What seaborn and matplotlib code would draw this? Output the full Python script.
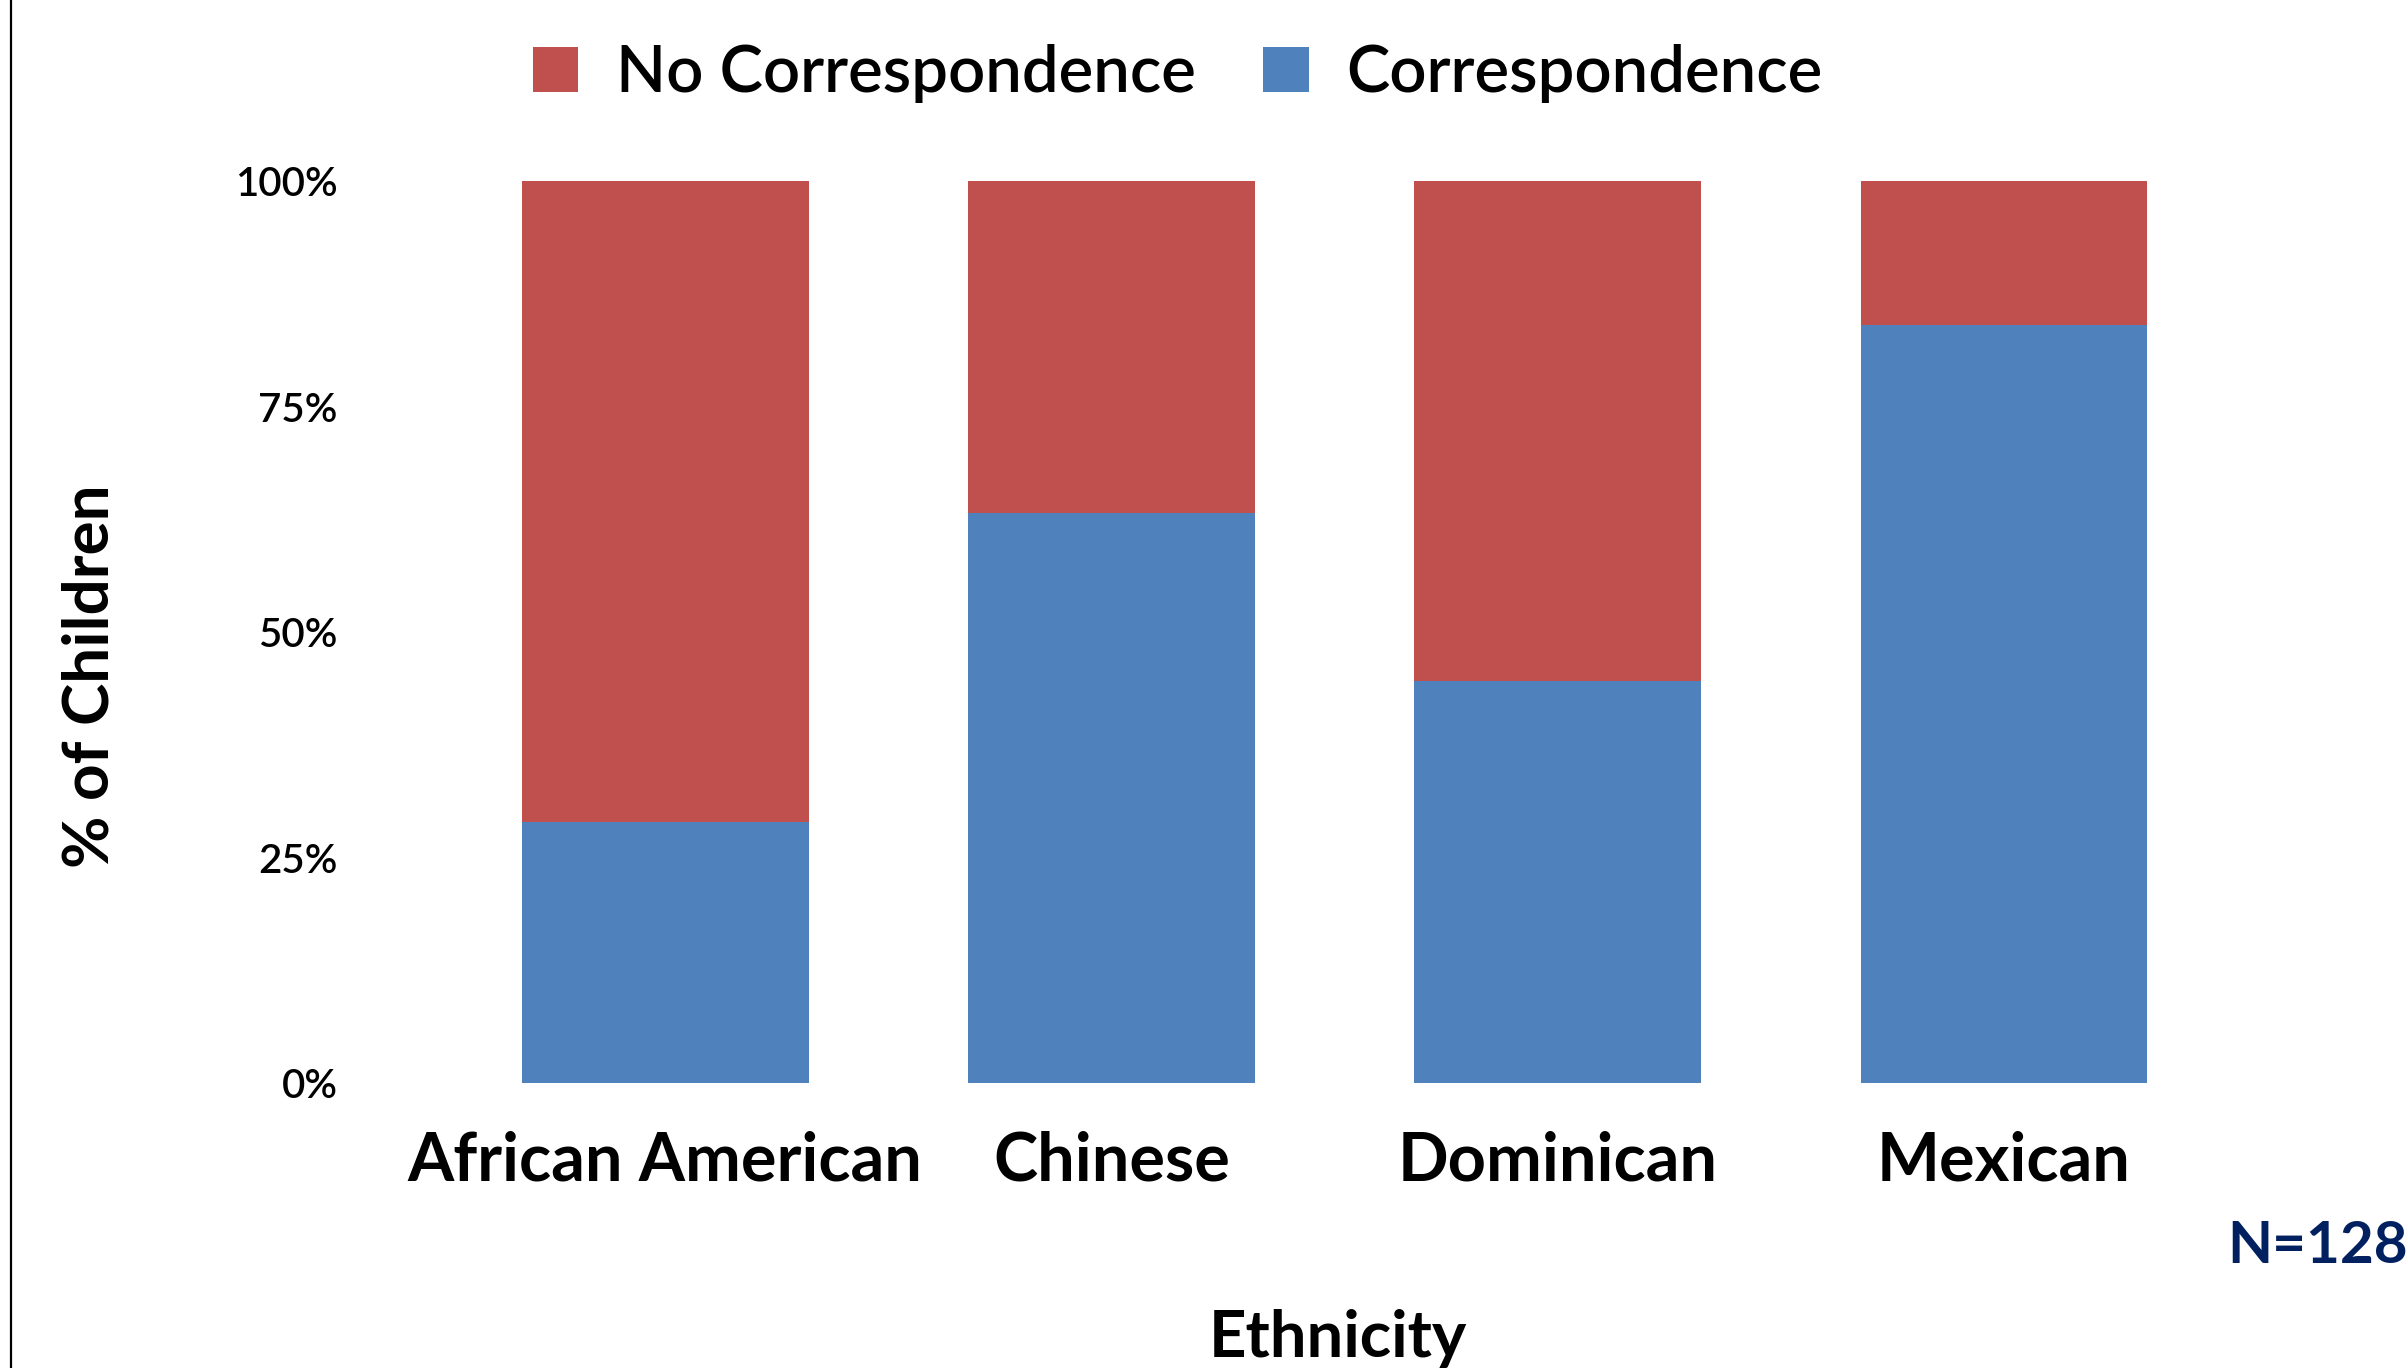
import matplotlib
matplotlib.use("Agg")
import matplotlib.pyplot as plt
import seaborn as sns
import pandas as pd
from matplotlib.lines import Line2D
from matplotlib.patches import Patch

ethnicity = ["African American", "Chinese", "Dominican", "Mexican"]
correspondence = [0.289, 0.632, 0.446, 0.840]
no_correspondence = [0.711, 0.368, 0.554, 0.160]
yticks = [0, 0.25, 0.5, 0.75, 1.0]
ytick_labels = ["0%", "25%", "50%", "75%", "100%"]

RED = "#C0504D"
BLUE = "#4F81BD"

sns.set_theme(style="white")
plt.rcParams["font.family"] = ["Lato", "DejaVu Sans"]
plt.rcParams["text.color"] = "black"
plt.rcParams["axes.labelcolor"] = "black"
plt.rcParams["xtick.color"] = "black"
plt.rcParams["ytick.color"] = "black"

df = pd.DataFrame({
    "Ethnicity": ethnicity,
    "Correspondence": correspondence,
    "No Correspondence": no_correspondence,
})
df["Total"] = df["Correspondence"] + df["No Correspondence"]

fig = plt.figure(figsize=(24.08, 13.68), dpi=100)
ax = fig.add_axes([0.1835, 0.2083, 0.7414, 0.6594])

# stacked: full bar in red, correspondence share in blue on top of it
sns.barplot(data=df, x="Ethnicity", y="Total", color=RED, width=0.643,
            saturation=1, linewidth=0, ax=ax)
sns.barplot(data=df, x="Ethnicity", y="Correspondence", color=BLUE, width=0.643,
            saturation=1, linewidth=0, ax=ax)

ax.set_xlim(-0.5, 3.5)
ax.set_ylim(0, 1.0)
ax.set_yticks(yticks)
ax.set_yticklabels(ytick_labels, fontsize=29, fontweight="semibold")
ax.tick_params(axis="y", length=0, pad=75)
ax.tick_params(axis="x", length=0, pad=34)
for lbl in ax.get_xticklabels():
    lbl.set_fontsize(48)
    lbl.set_fontweight("bold")
sns.despine(ax=ax, left=True, bottom=True)

ax.set_xlabel("")
ax.set_ylabel("% of Children", fontsize=46, fontweight="bold")
ax.yaxis.set_label_coords(-0.181, 0.451)
fig.text(0.5555, 0.008, "Ethnicity", ha="center", va="baseline",
         fontsize=47, fontweight="bold")

fig.text(1.0, 0.089, "N=128", ha="right", va="center", fontsize=42,
         fontweight="bold", color="#002060")

handles = [Patch(facecolor=RED, edgecolor="none", label="No Correspondence"),
           Patch(facecolor=BLUE, edgecolor="none", label="Correspondence")]
fig.legend(handles=handles, loc="center", bbox_to_anchor=(0.489, 0.946),
           ncol=2, frameon=False, prop={"size": 47, "weight": "semibold"},
           handlelength=0.7, handleheight=0.7, handletextpad=0.57,
           columnspacing=1.04)

fig.add_artist(Line2D([0.0045, 0.0045], [0, 1], transform=fig.transFigure,
                      color="black", linewidth=1.6))

fig.savefig("out.png", dpi=100)
